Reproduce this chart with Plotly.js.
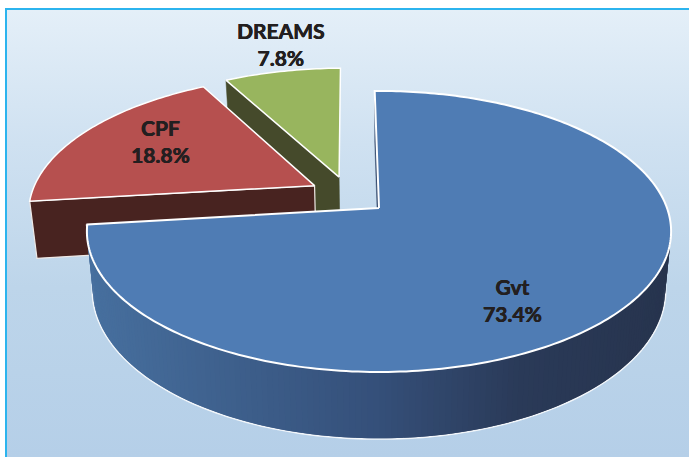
<!DOCTYPE html>
<html>
<head>
<meta charset="utf-8">
<script src="https://cdn.plot.ly/plotly-3.0.1.min.js"></script>
<style>
html,body{margin:0;padding:0;background:#fff;width:689px;height:457px;overflow:hidden}
#bg{position:absolute;left:5px;top:8px;width:684px;height:449px;box-sizing:border-box;
border-left:2px solid #2cb4ee;border-top:2px solid #2cb4ee;
background:linear-gradient(to bottom,#e4eff8 0%,#cfe1f1 30%,#bdd5ea 62%,#b5cfe8 100%)}
#chart{position:absolute;left:0;top:0;width:689px;height:457px}
</style>
</head>
<body>
<div id="bg"></div>
<div id="chart"></div>
<script>
// ---- chart data ----
const labels = ['Gvt', 'CPF', 'DREAMS'];
const shares = [73.4, 18.8, 7.8];
const topColors = ['#4f7cb4', '#b6504f', '#98b55e'];
const sideColors = ['#2a3a58', '#482320', '#454a2b'];
const explodeU = [0, -0.23, -0.144];
const explodeV = [0, 0.168, 0.235];
const labelX = [512, 160, 281];
const labelY = [300, 141, 44];

// ---- oblique projection of the pie disc ----
const startAngle = -1, K = 0.167;
const CX = 379, TOP_Y = 208, BOT_Y = 265.5;
const R_TOP = 288, R_BOT = 282, H_TOP = 136.6, H_BOT = 144;
const rad = d => d * Math.PI / 180;
function project(u, v, bottom) {
  const w = 1 + K * v;
  return bottom
    ? [CX + R_BOT * u / w, BOT_Y - H_BOT * v / w]
    : [CX + R_TOP * u / w, TOP_Y - H_TOP * v / w];
}
function rimPoint(i, deg, bottom) {
  return project(explodeU[i] + Math.sin(rad(deg)), explodeV[i] + Math.cos(rad(deg)), bottom);
}
function apex(i, bottom) { return project(explodeU[i], explodeV[i], bottom); }
function arc(i, a0, a1, bottom, step) {
  const pts = [], n = Math.max(2, Math.ceil(Math.abs(a1 - a0) / (step || 1)));
  for (let k = 0; k <= n; k++) pts.push(rimPoint(i, a0 + (a1 - a0) * k / n, bottom));
  return pts;
}
function poly(pts, fill, lineColor, lineWidth) {
  return {
    type: 'scatter', mode: 'lines', hoverinfo: 'skip', showlegend: false,
    x: pts.map(p => p[0]).concat([pts[0][0]]),
    y: pts.map(p => p[1]).concat([pts[0][1]]),
    fill: 'toself', fillcolor: fill,
    line: {color: lineColor, width: lineWidth, simplify: false}
  };
}
function path(pts, color, width) {
  return {
    type: 'scatter', mode: 'lines', hoverinfo: 'skip', showlegend: false,
    x: pts.map(p => p[0]), y: pts.map(p => p[1]),
    line: {color: color, width: width, simplify: false}
  };
}
const sliceStart = [], sliceEnd = [];
let acc = startAngle;
shares.forEach((s, i) => { sliceStart[i] = acc; acc += s * 3.6; sliceEnd[i] = acc; });

const stops = [[0, [71, 112, 159]], [0.5, [53, 80, 122]], [0.75, [42, 58, 88]], [1, [39, 52, 78]]];
function sideColor(x) {
  const t = Math.min(1, Math.max(0, (x - 90) / 575));
  for (let j = 1; j < stops.length; j++) {
    if (t <= stops[j][0]) {
      const f = (t - stops[j - 1][0]) / (stops[j][0] - stops[j - 1][0]);
      const c = stops[j - 1][1].map((a, q) => Math.round(a + (stops[j][1][q] - a) * f));
      return 'rgb(' + c.join(',') + ')';
    }
  }
  return 'rgb(39,52,78)';
}

const traces = [];
function sector(i, lw) {
  const pts = [apex(i, false)].concat(arc(i, sliceStart[i], sliceEnd[i], false));
  return poly(pts, topColors[i], '#ffffff', lw);
}

// DREAMS: radial face, then top
const dEnd = sliceStart[2];
traces.push(poly([apex(2, false), rimPoint(2, dEnd, false), rimPoint(2, dEnd, true), apex(2, true)],
  sideColors[2], sideColors[2], 0.5));
traces.push(sector(2, 1.5));

// CPF: radial face, then top
const cStart = sliceStart[1];
traces.push(poly([rimPoint(1, cStart, false), apex(1, false), apex(1, true), rimPoint(1, cStart, true)],
  sideColors[1], '#efe9e6', 1.2));
traces.push(sector(1, 1.5));

// Gvt: thin radial sliver at the top, outer wall as gradient strips, then top
traces.push(poly([rimPoint(0, sliceStart[0], false), apex(0, false), apex(0, true), rimPoint(0, sliceStart[0], true)],
  '#2f4468', '#2f4468', 0.5));
const a0 = sliceEnd[0], a1 = 60, nStrip = 200;
traces.push(path([rimPoint(0, a0, false)].concat(arc(0, a0, a1, true)), '#f2f6fa', 3));
for (let k = 0; k < nStrip; k++) {
  const p = a0 + (a1 - a0) * k / nStrip, q = a0 + (a1 - a0) * Math.min(nStrip, k + 2) / nStrip;
  const A = rimPoint(0, p, false), B = rimPoint(0, q, false), C = rimPoint(0, q, true), D = rimPoint(0, p, true);
  const col = sideColor((C[0] + D[0]) / 2);
  traces.push({
    type: 'scatter', mode: 'none', hoverinfo: 'skip', showlegend: false,
    x: [A[0], B[0], C[0], D[0], A[0]], y: [A[1], B[1], C[1], D[1], A[1]],
    fill: 'toself', fillcolor: col
  });
}
traces.push(sector(0, 2));

const annotations = labels.map((l, i) => ({
  x: labelX[i], y: labelY[i], xref: 'x', yref: 'y', showarrow: false,
  text: '<b>' + l + '<br>' + shares[i].toFixed(1) + '%</b>',
  align: 'center', xanchor: 'center', yanchor: 'middle',
  font: {family: 'Lato, "Open Sans", sans-serif', size: 21, color: '#231f20',
         shadow: '0.4px 0 0 #231f20, -0.2px 0 0 #231f20'}
}));

Plotly.newPlot('chart', traces, {
  width: 689, height: 457,
  margin: {l: 0, r: 0, t: 0, b: 0},
  paper_bgcolor: 'rgba(0,0,0,0)', plot_bgcolor: 'rgba(0,0,0,0)',
  xaxis: {range: [0, 689], visible: false, fixedrange: true},
  yaxis: {range: [457, 0], visible: false, fixedrange: true},
  showlegend: false, hovermode: false, annotations: annotations
}, {displayModeBar: false, staticPlot: true});
</script>
</body>
</html>
